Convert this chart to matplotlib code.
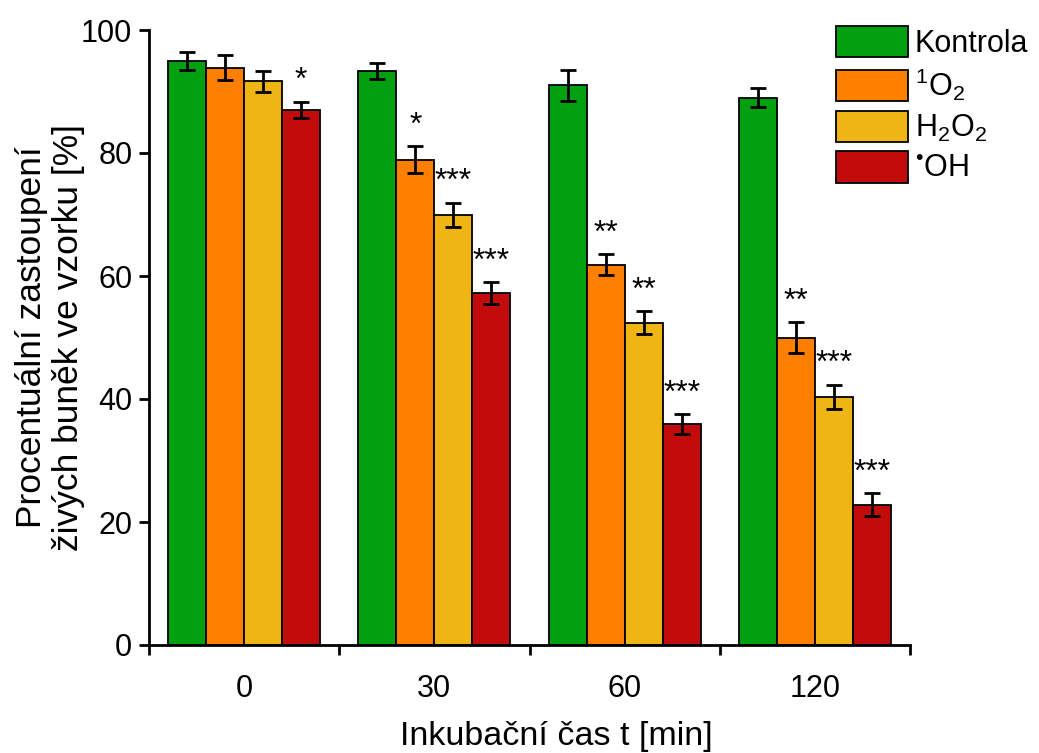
import numpy as np
import matplotlib
matplotlib.use('Agg')
import matplotlib.pyplot as plt

plt.rcParams['font.family'] = ['Liberation Sans', 'DejaVu Sans']
plt.rcParams['mathtext.fontset'] = 'custom'
plt.rcParams['mathtext.rm'] = 'Liberation Sans'
plt.rcParams['mathtext.it'] = 'Liberation Sans:italic'

# data
times = ['0', '30', '60', '120']
series = ['Kontrola', '$^1$O$_2$', 'H$_2$O$_2$', '$^{\u2022}$OH']
kontrola = [95.0, 93.3, 91.0, 89.0]
kontrola_err = [1.5, 1.3, 2.5, 1.5]
singlet = [93.9, 78.9, 61.8, 50.0]
singlet_err = [2.0, 2.2, 1.7, 2.5]
peroxide = [91.7, 69.9, 52.4, 40.3]
peroxide_err = [1.7, 2.0, 1.9, 2.0]
hydroxyl = [87.0, 57.2, 35.9, 22.8]
hydroxyl_err = [1.3, 1.8, 1.6, 1.9]
stars = [['', '', '', ''],
         ['', '*', '**', '**'],
         ['', '***', '**', '***'],
         ['*', '***', '***', '***']]

colors = ['#00a010', '#ff8000', '#efb515', '#c20c0c']
values = [kontrola, singlet, peroxide, hydroxyl]
errors = [kontrola_err, singlet_err, peroxide_err, hydroxyl_err]

fig = plt.figure(figsize=(10.39, 7.53), dpi=100)
ax = fig.add_axes([149 / 1039, 1 - 645 / 753, (910 - 149) / 1039, (645 - 30) / 753])

centers = np.arange(len(times)) + 0.5
w = 0.2
for i, (vals, errs, c) in enumerate(zip(values, errors, colors)):
    x = centers + (i - 1.5) * w
    ax.bar(x, vals, w, color=c, edgecolor='black', linewidth=1.3, label=series[i], zorder=2)
    ax.errorbar(x, vals, yerr=errs, fmt='none', ecolor='black', elinewidth=2,
                capsize=6, capthick=2, zorder=3)
    for j in range(len(times)):
        if stars[i][j]:
            ax.annotate(stars[i][j], (x[j], vals[j] + errs[j]), xytext=(0, 4),
                        textcoords='offset points', ha='center', va='bottom', fontsize=23)

ax.set_xlim(0, len(times))
ax.set_ylim(0, 100)
ax.set_xticks(np.arange(len(times) + 1))
ax.set_xticklabels([])
ax.set_xticks(centers, minor=True)
ax.set_xticklabels(times, minor=True)
ax.tick_params(axis='x', which='minor', length=0, pad=21, labelsize=22)
ax.tick_params(axis='x', which='major', length=7, width=2, direction='out')
ax.set_yticks([0, 20, 40, 60, 80, 100])
ax.tick_params(axis='y', length=7, width=2, direction='out', labelsize=22, pad=5)
for s in ['top', 'right']:
    ax.spines[s].set_visible(False)
for s in ['left', 'bottom']:
    ax.spines[s].set_linewidth(2)

ax.set_xlabel('Inkubační čas t [min]', fontsize=24.5)
ax.xaxis.set_label_coords(0.535, -0.124)
ax.set_ylabel('Procentuální zastoupení\nživých buněk ve vzorku [%]', fontsize=25.5,
              labelpad=-3, linespacing=1.15)

fig.legend(loc='upper left', bbox_to_anchor=(836 / 1039, 1 - 26 / 753), frameon=False,
           fontsize=22, handlelength=2.35, handleheight=1.2, labelspacing=0.25,
           handletextpad=0.23, borderpad=0, borderaxespad=0)

fig.savefig('out.png', dpi=100)
